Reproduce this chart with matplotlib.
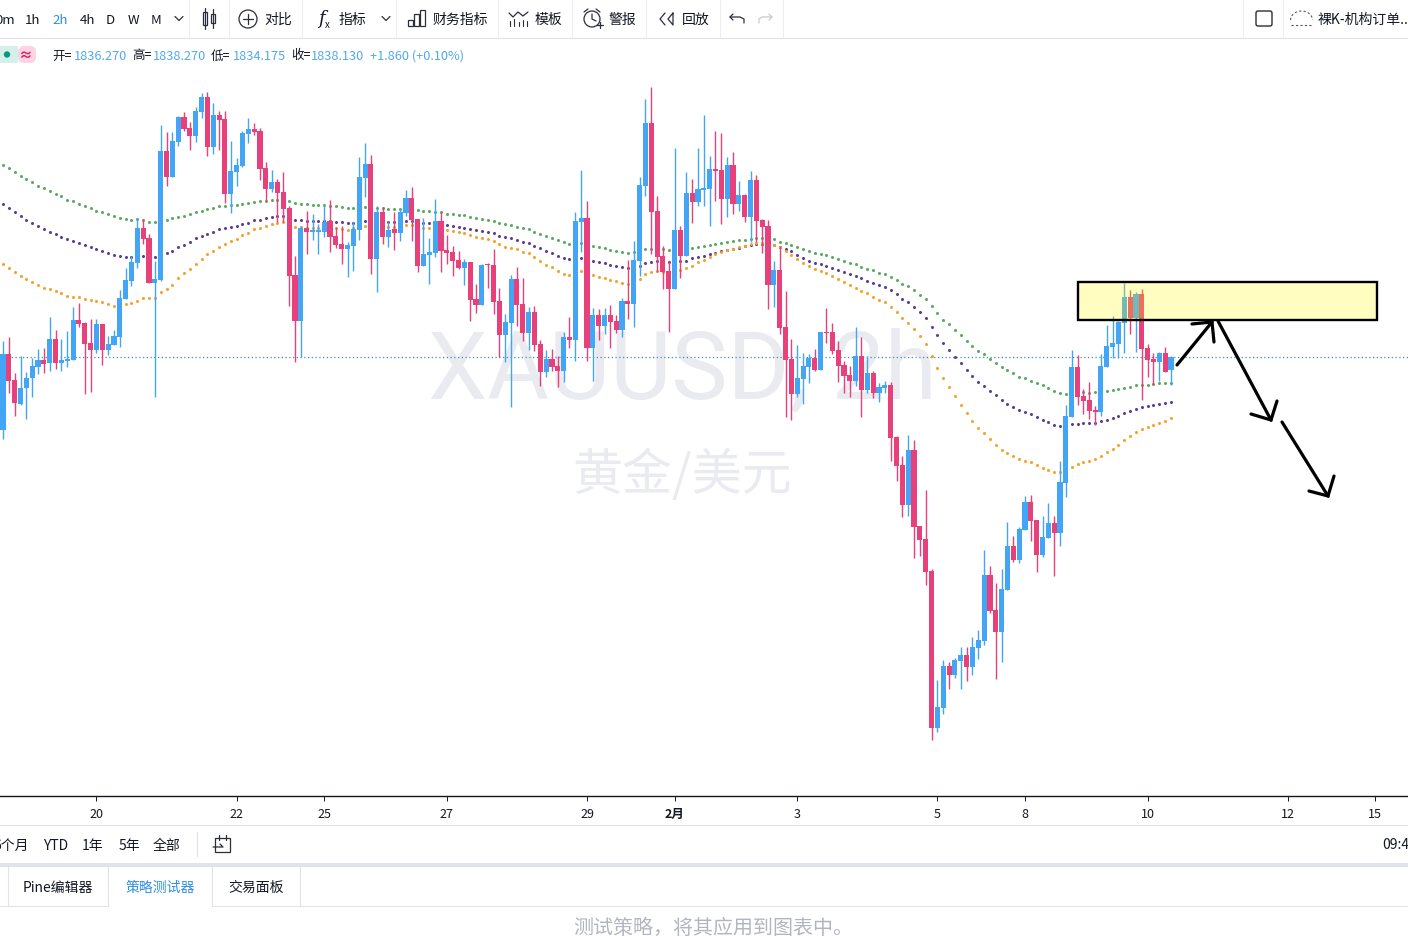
import matplotlib
matplotlib.use("Agg")
import matplotlib.pyplot as plt
from matplotlib.patches import Rectangle, FancyBboxPatch, Circle
import numpy as np

plt.rcParams['font.family'] = ['Noto Sans CJK SC', 'DejaVu Sans']

# 2h candles
opens = [
    1827.9,1838.5,1834.9,1831.5,1833.7,1835.1,1836.7,1837.7,1837.2,1840.6,
    1837.2,1837.5,1837.7,1843.3,1842.8,1840.0,1839.1,1842.7,1839.1,1839.8,
    1840.9,1846.2,1848.7,1851.2,1856.1,1854.7,1848.4,1848.9,1866.9,1863.3,
    1868.2,1871.7,1870.1,1869.0,1872.4,1874.5,1867.5,1872.0,1871.4,1860.9,
    1864.0,1864.8,1869.3,1870.0,1869.7,1864.5,1861.6,1862.6,1861.2,1858.9,
    1849.6,1843.1,1856.1,1855.6,1855.6,1855.6,1857.1,1855.0,1853.9,1853.2,
    1853.6,1855.9,1863.1,1865.1,1851.8,1858.4,1854.9,1856.0,1855.4,1858.2,
    1860.3,1857.4,1850.8,1852.4,1852.6,1857.1,1853.1,1852.8,1851.7,1850.5,
    1851.4,1846.2,1845.4,1851.0,1851.0,1845.9,1841.2,1842.8,1849.0,1845.5,
    1841.4,1844.4,1839.9,1836.0,1837.8,1836.8,1836.1,1840.9,1840.5,1857.0,
    1857.5,1839.3,1844.0,1842.4,1844.0,1843.1,1841.9,1845.9,1845.5,1851.5,
    1862.0,1870.8,1858.5,1852.2,1850.1,1847.6,1855.9,1852.2,1861.0,1859.8,
    1861.5,1861.6,1864.4,1864.3,1860.2,1865.0,1859.5,1860.8,1857.7,1862.9,
    1857.3,1856.4,1848.2,1850.3,1842.3,1837.8,1832.9,1835.0,1836.7,1837.9,
    1836.3,1841.6,1841.6,1839.1,1837.0,1835.6,1834.7,1838.2,1833.5,1835.8,
    1833.0,1833.7,1834.2,1826.9,1823.0,1817.4,1825.1,1814.4,1812.6,1808.1,
    1786.1,1788.9,1794.8,1793.6,1795.5,1796.4,1794.7,1797.3,1798.3,1807.6,
    1802.7,1799.6,1805.5,1811.6,1809.7,1813.9,1817.8,1815.3,1810.4,1812.7,
    1814.8,1813.4,1820.4,1829.7,1836.7,1832.6,1832.1,1830.7,1830.4,1836.7,
    1839.5,1839.9,1842.8,1846.5,1843.5,1846.9,1839.3,1837.8,1837.4,1838.6,
    1836.27]
highs = [
    1840.3,1840.9,1835.8,1838.2,1836.0,1837.9,1839.2,1839.3,1843.7,1841.9,
    1840.6,1841.7,1845.1,1845.6,1843.0,1843.4,1843.4,1842.7,1841.0,1841.9,
    1847.5,1850.5,1852.2,1857.5,1857.4,1855.3,1851.5,1870.6,1869.6,1869.6,
    1871.8,1872.4,1871.0,1873.1,1875.0,1875.2,1873.6,1872.5,1872.5,1868.3,
    1865.9,1869.7,1871.5,1870.8,1870.1,1865.4,1864.3,1863.0,1864.0,1859.2,
    1852.2,1856.4,1858.5,1858.1,1856.7,1859.2,1860.1,1856.3,1856.4,1854.2,
    1857.0,1866.1,1868.0,1866.4,1859.2,1859.1,1857.1,1858.4,1858.8,1861.5,
    1861.9,1857.4,1857.5,1854.7,1860.2,1858.4,1855.2,1853.6,1852.9,1851.8,
    1851.4,1848.3,1851.1,1851.2,1853.2,1847.7,1844.1,1849.6,1850.7,1849.1,
    1845.1,1845.2,1840.5,1839.1,1839.2,1838.2,1841.6,1843.7,1858.4,1864.3,
    1859.9,1844.9,1844.8,1844.9,1845.4,1844.0,1846.3,1851.7,1854.3,1863.3,
    1874.2,1875.9,1860.6,1853.6,1851.5,1867.3,1856.4,1864.0,1863.0,1867.3,
    1872.0,1866.2,1869.7,1869.4,1866.1,1866.8,1862.7,1860.9,1864.1,1863.6,
    1857.4,1857.3,1851.5,1853.6,1847.3,1840.6,1839.8,1838.6,1838.5,1839.2,
    1841.6,1844.9,1842.8,1840.3,1837.5,1836.8,1842.3,1840.9,1838.2,1836.1,
    1834.4,1834.7,1834.6,1827.0,1824.2,1827.2,1826.5,1814.4,1819.5,1808.4,
    1792.9,1795.7,1795.4,1795.9,1797.5,1797.5,1798.9,1799.9,1811.1,1808.8,
    1806.4,1808.4,1815.0,1813.0,1814.3,1818.6,1818.8,1815.3,1815.8,1817.6,
    1815.8,1823.5,1831.4,1839.1,1838.4,1833.6,1834.6,1831.2,1838.5,1842.6,
    1843.8,1843.1,1848.4,1847.5,1847.2,1847.6,1839.9,1838.6,1838.8,1839.5,
    1838.27]
lows = [
    1826.6,1833.0,1829.8,1831.4,1829.4,1832.5,1835.7,1835.8,1836.1,1836.4,
    1836.1,1836.7,1837.7,1842.3,1832.9,1833.2,1838.6,1837.0,1838.4,1839.8,
    1839.5,1846.2,1848.0,1850.5,1853.9,1848.4,1832.5,1848.7,1862.0,1863.3,
    1867.6,1869.7,1867.1,1868.2,1871.5,1866.2,1866.5,1867.1,1859.6,1858.2,
    1862.0,1864.7,1868.0,1869.2,1862.9,1859.9,1861.2,1857.0,1857.0,1845.2,
    1837.4,1838.1,1852.5,1854.5,1852.5,1854.9,1852.8,1853.3,1851.1,1849.3,
    1850.1,1854.5,1860.5,1849.7,1847.2,1853.9,1853.5,1853.1,1854.3,1857.8,
    1854.3,1850.0,1850.8,1848.3,1852.1,1850.0,1851.1,1849.4,1850.4,1848.2,
    1843.1,1844.2,1845.4,1847.7,1844.1,1838.1,1837.4,1831.1,1842.4,1840.3,
    1839.1,1838.9,1834.0,1835.3,1836.1,1833.9,1834.6,1839.3,1837.5,1852.8,
    1837.5,1834.7,1840.5,1841.3,1839.3,1841.4,1840.9,1843.4,1842.3,1849.4,
    1860.6,1852.5,1850.0,1847.6,1841.6,1847.6,1849.1,1852.2,1856.8,1859.2,
    1859.2,1856.4,1859.9,1856.7,1857.7,1858.1,1858.5,1857.0,1854.2,1854.2,
    1852.6,1844.8,1845.1,1841.3,1829.7,1829.3,1832.5,1831.5,1834.4,1836.1,
    1836.3,1840.0,1838.5,1834.6,1833.0,1832.5,1834.0,1829.7,1833.0,1832.3,
    1831.8,1833.0,1823.5,1820.7,1815.7,1815.8,1809.9,1810.2,1806.2,1784.5,
    1785.6,1788.1,1791.6,1793.1,1791.6,1792.7,1793.6,1795.8,1797.8,1802.2,
    1793.0,1795.4,1805.5,1809.4,1809.2,1813.9,1812.3,1808.0,1810.1,1812.7,
    1807.4,1811.6,1818.5,1829.7,1831.4,1830.1,1829.4,1828.6,1829.8,1836.7,
    1837.9,1837.9,1838.6,1841.3,1838.8,1832.1,1835.3,1834.2,1834.7,1836.0,
    1834.175]
closes = [
    1838.5,1834.7,1831.6,1833.7,1835.1,1836.8,1837.7,1837.1,1840.6,1837.2,
    1837.7,1837.8,1843.3,1842.7,1839.9,1839.1,1842.7,1839.1,1839.9,1841.0,
    1846.3,1848.9,1851.4,1856.1,1854.6,1848.4,1849.0,1866.9,1863.3,1868.3,
    1871.7,1870.0,1869.0,1872.5,1874.5,1867.5,1872.0,1871.3,1860.9,1864.1,
    1865.0,1869.4,1870.0,1869.6,1864.4,1861.6,1862.6,1861.0,1858.8,1849.4,
    1843.1,1856.1,1855.6,1855.7,1855.7,1857.0,1854.9,1853.8,1853.2,1853.8,
    1856.0,1863.3,1865.1,1851.8,1858.4,1854.9,1855.9,1855.4,1858.4,1860.3,
    1857.3,1850.8,1852.5,1852.8,1857.1,1852.9,1852.6,1851.5,1850.5,1851.4,
    1846.1,1845.4,1851.0,1850.9,1845.8,1841.2,1843.0,1849.0,1845.4,1841.4,
    1844.4,1839.8,1836.0,1837.8,1836.7,1836.1,1840.9,1840.5,1857.1,1857.5,
    1839.3,1844.0,1842.4,1844.0,1843.0,1841.9,1845.9,1845.5,1851.7,1862.2,
    1870.8,1858.4,1852.1,1850.0,1847.6,1855.9,1852.2,1861.0,1859.8,1861.6,
    1861.7,1864.4,1864.1,1860.2,1865.0,1859.5,1860.8,1857.7,1862.9,1857.1,
    1856.3,1848.2,1850.3,1842.1,1837.7,1832.9,1835.1,1836.8,1837.9,1836.3,
    1841.6,1841.4,1838.9,1836.8,1835.4,1834.7,1838.2,1833.5,1835.8,1833.0,
    1833.9,1834.2,1826.7,1822.8,1817.4,1825.1,1814.3,1812.5,1808.0,1786.1,
    1789.1,1794.8,1793.6,1795.7,1796.4,1794.7,1797.5,1798.5,1807.6,1802.5,
    1799.6,1805.6,1811.6,1809.7,1814.0,1817.8,1815.1,1810.4,1812.9,1814.8,
    1813.4,1820.6,1829.8,1836.7,1832.5,1831.9,1830.5,1830.4,1836.8,1839.6,
    1840.0,1843.0,1846.5,1843.5,1846.9,1839.2,1837.7,1837.4,1838.6,1836.0,
    1838.13]

# the three dotted moving averages, one value per candle
ma_green = [
    1865.0,1864.5,1864.0,1863.4,1863.0,1862.6,1862.0,1861.7,1861.3,1860.9,
    1860.6,1860.1,1859.9,1859.5,1859.2,1858.9,1858.5,1858.4,1858.1,1857.8,
    1857.5,1857.4,1857.3,1857.4,1857.3,1857.0,1857.0,1856.8,1857.3,1857.5,
    1857.7,1857.8,1858.1,1858.4,1858.5,1858.8,1858.9,1859.2,1859.2,1859.4,
    1859.4,1859.5,1859.6,1859.8,1859.9,1859.9,1860.1,1860.1,1860.1,1859.9,
    1859.6,1859.5,1859.5,1859.4,1859.4,1859.4,1859.2,1859.2,1859.1,1858.9,
    1858.9,1858.9,1859.1,1858.9,1858.9,1858.9,1858.8,1858.8,1858.8,1858.8,
    1858.8,1858.7,1858.5,1858.5,1858.4,1858.4,1858.1,1858.1,1858.0,1858.0,
    1857.7,1857.5,1857.4,1857.3,1857.1,1856.8,1856.7,1856.6,1856.3,1856.1,
    1856.0,1855.6,1855.3,1855.0,1854.7,1854.5,1854.2,1853.9,1853.8,1854.0,
    1853.8,1853.6,1853.5,1853.3,1853.1,1852.9,1852.8,1852.6,1852.8,1853.1,
    1853.2,1853.2,1853.2,1853.2,1853.1,1853.2,1853.2,1853.3,1853.3,1853.5,
    1853.6,1853.8,1853.9,1854.0,1854.2,1854.3,1854.5,1854.5,1854.6,1854.7,
    1854.7,1854.7,1854.6,1854.2,1854.0,1853.8,1853.5,1853.2,1852.9,1852.6,
    1852.5,1852.4,1852.1,1851.8,1851.5,1851.2,1851.1,1850.7,1850.4,1850.3,
    1849.8,1849.7,1849.3,1848.9,1848.3,1848.0,1847.5,1846.8,1846.2,1845.2,
    1844.2,1843.3,1842.7,1841.9,1841.2,1840.3,1839.6,1838.9,1838.5,1837.8,
    1837.2,1836.7,1836.3,1835.8,1835.3,1835.1,1834.7,1834.4,1834.2,1833.7,
    1833.3,1833.0,1832.9,1832.9,1833.0,1833.2,1833.0,1833.2,1833.2,1833.3,
    1833.5,1833.6,1833.7,1833.9,1834.2,1834.2,1834.2,1834.3,1834.4,1834.4,
    1834.4]
ma_purple = [
    1859.5,1858.9,1858.4,1857.8,1857.3,1856.8,1856.4,1856.0,1855.6,1855.3,
    1854.9,1854.6,1854.3,1854.0,1853.8,1853.5,1853.2,1852.9,1852.6,1852.4,
    1852.2,1852.1,1852.1,1852.2,1852.2,1852.1,1852.1,1852.2,1852.6,1852.9,
    1853.5,1853.8,1854.2,1854.7,1855.0,1855.3,1855.6,1856.0,1856.1,1856.3,
    1856.4,1856.7,1856.8,1857.3,1857.3,1857.5,1857.7,1857.8,1857.8,1857.4,
    1857.3,1857.3,1857.1,1857.1,1857.1,1857.1,1857.1,1857.0,1857.0,1856.8,
    1856.8,1857.0,1857.1,1857.1,1857.1,1857.0,1857.0,1857.0,1857.0,1857.1,
    1857.1,1856.8,1856.8,1856.8,1856.7,1856.7,1856.6,1856.4,1856.3,1856.1,
    1856.0,1855.9,1855.7,1855.6,1855.4,1855.0,1854.9,1854.7,1854.5,1854.2,
    1854.0,1853.6,1853.3,1852.9,1852.6,1852.2,1851.9,1851.8,1851.7,1851.9,
    1851.7,1851.5,1851.4,1851.2,1851.0,1850.8,1850.7,1850.5,1850.7,1850.8,
    1851.2,1851.4,1851.5,1851.2,1851.4,1851.5,1851.5,1851.5,1851.9,1852.1,
    1852.2,1852.5,1852.6,1852.9,1853.1,1853.2,1853.3,1853.6,1853.8,1853.9,
    1853.9,1853.9,1853.8,1853.5,1853.2,1852.9,1852.4,1851.9,1851.5,1851.2,
    1851.1,1850.8,1850.5,1850.3,1850.0,1849.7,1849.4,1849.1,1848.7,1848.4,
    1848.2,1847.9,1847.5,1846.9,1846.2,1845.8,1845.1,1844.4,1843.5,1842.3,
    1841.2,1840.0,1839.1,1838.1,1837.2,1836.3,1835.4,1834.6,1834.0,1833.3,
    1832.8,1832.1,1831.5,1831.1,1830.7,1830.4,1830.1,1829.7,1829.3,1829.0,
    1828.6,1828.4,1828.6,1828.7,1828.7,1828.8,1828.8,1828.8,1829.1,1829.3,
    1829.5,1829.8,1830.2,1830.5,1830.8,1831.1,1831.2,1831.4,1831.5,1831.6,
    1831.8]
ma_orange = [
    1851.1,1850.5,1850.0,1849.4,1849.0,1848.6,1848.2,1847.7,1847.6,1847.3,
    1847.0,1846.6,1846.5,1846.5,1846.2,1846.1,1845.9,1845.8,1845.5,1845.2,
    1845.2,1845.5,1845.6,1845.9,1846.3,1846.3,1846.3,1847.2,1847.6,1848.2,
    1849.1,1849.8,1850.4,1851.1,1851.8,1852.5,1852.9,1853.5,1853.9,1854.3,
    1854.6,1855.2,1855.4,1856.0,1856.1,1856.4,1856.7,1856.8,1857.0,1856.7,
    1856.3,1856.3,1856.1,1856.1,1856.1,1856.1,1856.1,1856.1,1856.0,1855.9,
    1856.1,1856.3,1856.4,1856.4,1856.4,1856.3,1856.3,1856.3,1856.3,1856.6,
    1856.6,1856.4,1856.1,1856.1,1856.0,1856.0,1855.9,1855.7,1855.6,1855.4,
    1855.2,1854.9,1854.7,1854.6,1854.3,1853.9,1853.5,1853.3,1853.2,1852.8,
    1852.6,1852.1,1851.5,1851.0,1850.7,1850.1,1849.7,1849.6,1849.4,1850.1,
    1849.8,1849.6,1849.3,1849.1,1848.9,1848.7,1848.4,1848.3,1848.4,1849.0,
    1849.7,1850.0,1850.1,1850.0,1850.0,1850.0,1850.3,1850.5,1850.8,1851.4,
    1851.7,1852.1,1852.5,1852.8,1853.1,1853.2,1853.5,1853.6,1853.9,1854.0,
    1854.0,1854.0,1853.8,1853.5,1852.9,1852.4,1851.8,1851.2,1850.8,1850.4,
    1850.1,1849.8,1849.4,1849.0,1848.6,1848.2,1847.7,1847.3,1847.0,1846.5,
    1846.1,1845.8,1845.1,1844.4,1843.5,1842.8,1842.0,1841.0,1839.9,1838.2,
    1836.5,1835.1,1833.9,1832.6,1831.4,1830.2,1829.1,1828.1,1827.4,1826.6,
    1825.8,1825.1,1824.6,1824.2,1823.8,1823.5,1823.4,1823.0,1822.5,1822.3,
    1822.0,1822.0,1822.1,1822.7,1823.1,1823.4,1823.5,1823.8,1824.2,1824.8,
    1825.2,1825.8,1826.5,1827.0,1827.6,1828.0,1828.3,1828.6,1828.9,1829.1,
    1829.5]

tick_bars = [16, 40, 55, 76, 100, 115, 136, 160, 175, 196, 220, 235]
tick_labels = ['20', '22', '25', '27', '29', '2月', '3', '5', '8', '10', '12', '15']

W, H = 1408, 937
UP = '#42a5f5'
DOWN = '#e8407a'
BORDER = '#e0e3eb'
TEXT = '#131722'

fig = plt.figure(figsize=(W / 100, H / 100), dpi=100, facecolor='white')

# background layer in pixel units, for the toolbar and watermark
ui = fig.add_axes([0, 0, 1, 1], zorder=0)
ui.set_xlim(0, W)
ui.set_ylim(H, 0)
ui.axis('off')

ax = fig.add_axes([0, (H - 797) / H, 1, (797 - 39) / H], zorder=1)
ax.patch.set_alpha(0)
ax.set_xlim(-3 / 5.84, (W - 3) / 5.84)
ax.set_ylim(1888.2 - 0.14 * 797, 1888.2 - 0.14 * 39)

# top layer for the hand drawn box and arrows
top = fig.add_axes([0, 0, 1, 1], zorder=2)
top.patch.set_alpha(0)
top.set_xlim(0, W)
top.set_ylim(H, 0)
top.axis('off')


def label(x, y, s, size=10, color=TEXT, ha='center', **kw):
    ui.text(x, y + 1, s, fontsize=size, color=color, ha=ha, va='center', **kw)


def stroke(xs, ys, color='#2a2e39', lw=0.9, **kw):
    ui.plot(xs, ys, color=color, lw=lw, solid_capstyle='round', **kw)


# watermark
label(682, 371, 'XAUUSD, 2h', size=68, color='#e9ebf0', family='Roboto')
label(682, 475, '黄金/美元', size=36, color='#e9ebf0')

# candles and averages
x = np.arange(len(closes))
o = np.array(opens)
c = np.array(closes)
colors = [UP if b >= a else DOWN for a, b in zip(o, c)]

for ma, col in [(ma_green, '#5cab62'), (ma_purple, '#5a3f98'), (ma_orange, '#f4a32a')]:
    ax.plot(x, ma, 'o', ms=2.2, mew=0, color=col, zorder=2)

ax.axhline(closes[-1], color='#3f8fb5', lw=0.9, ls=(0, (1, 2)), zorder=1)
ax.vlines(x, lows, highs, colors=colors, lw=1.0, zorder=3)
ax.bar(x, np.maximum(np.abs(c - o), 0.2), bottom=np.minimum(o, c), width=0.88,
       color=colors, lw=0, zorder=4)

ax.set_xticks(tick_bars)
ax.set_xticklabels(tick_labels, fontsize=9, color=TEXT)
ax.get_xticklabels()[5].set_fontweight('bold')
ax.tick_params(axis='x', length=3.5, width=0.7, pad=4.5, color='#131722')
ax.set_yticks([])
for side in ['top', 'left', 'right']:
    ax.spines[side].set_visible(False)
ax.spines['bottom'].set_color('#131722')
ax.spines['bottom'].set_linewidth(1.0)

# toolbar
ui.plot([0, W], [38.5, 38.5], color=BORDER, lw=0.8)
for sx in [189, 229, 302, 396, 498, 572, 646, 720, 783, 1243, 1283]:
    ui.plot([sx, sx], [0, 38], color='#eceef2', lw=0.8)

label(5, 19, '0m', size=9.5)
for tx, s, col in [(33, '1h', TEXT), (60, '2h', '#2e8fe0'), (87, '4h', TEXT), (110, 'D', TEXT),
                   (133, 'W', TEXT), (156, 'M', TEXT)]:
    label(tx, 19, s, size=9.5, color=col)
stroke([175, 179, 183], [17.5, 21.5, 17.5])

# candle icon
ui.add_patch(Rectangle((203, 13), 4, 13, fill=False, ec='#2a2e39', lw=0.9))
ui.add_patch(Rectangle((211, 15), 4, 9, fill=False, ec='#2a2e39', lw=0.9))
stroke([205, 205], [9, 30])
stroke([213, 213], [10, 29])

ui.add_patch(Circle((248, 20), 9, fill=False, ec='#2a2e39', lw=0.9))
stroke([243, 253], [20, 20])
stroke([248, 248], [15, 25])
label(278, 19, '对比')

label(321, 18, 'f', size=13, style='italic', family='DejaVu Serif')
label(327, 24, 'x', size=7)
label(352, 19, '指标')
stroke([382, 386, 390], [17.5, 21.5, 17.5])

for bx, bh in [(408, 6), (414, 12), (420, 16)]:
    ui.add_patch(Rectangle((bx, 27 - bh), 5, bh, fill=False, ec='#2a2e39', lw=0.9))
label(460, 19, '财务指标')

stroke([509, 513, 518, 523, 528], [14, 18, 13, 17, 13])
for tx, ty in [(510, 22), (514, 20), (519, 23), (523, 21), (527, 22)]:
    stroke([tx, tx], [ty, 27], lw=0.8)
label(548, 19, '模板')

ui.add_patch(Circle((592, 20), 8, fill=False, ec='#2a2e39', lw=0.9))
stroke([592, 592, 596], [15, 20, 22])
stroke([584, 588], [13, 10])
stroke([600, 596], [13, 10])
stroke([597, 603], [26, 26])
stroke([600, 600], [23, 29])
label(622, 19, '警报')

stroke([665, 660, 665], [14, 20, 26])
stroke([673, 668, 673, 673], [14, 20, 26, 14])
label(696, 19, '回放')

stroke([733, 730, 733], [15, 18, 21])
stroke([730, 740, 744, 744], [18, 18, 20, 24])
stroke([769, 772, 769], [15, 18, 21], color='#c8cad0')
stroke([772, 762, 759, 759], [18, 18, 20, 24], color='#c8cad0')

ui.add_patch(FancyBboxPatch((1256, 12), 16, 15, boxstyle='round,pad=0,rounding_size=2',
                            fill=False, ec='#2a2e39', lw=1.0))
cloud_t = np.linspace(np.pi, 0, 20)
ui.plot(1301.5 + 11 * np.cos(cloud_t), 21 + 9 * np.sin(cloud_t) * -1, color='#555', lw=0.8, ls=(0, (2, 2)))
ui.plot([1291, 1313], [26, 26], color='#555', lw=0.8, ls=(0, (2, 2)))
label(1318, 19, '裸K-机构订单..', ha='left')

# legend row
ui.add_patch(Rectangle((-4, 47), 22, 17, fc='#d5f0ea', ec='none'))
ui.add_patch(FancyBboxPatch((18, 47), 18, 17, boxstyle='round,pad=0,rounding_size=6',
                            fc='#fcd4e2', ec='none'))
ui.add_patch(Circle((7, 55.5), 3.2, fc='#089981', ec='none'))
label(25, 55, '≈', size=10, color='#d81b60', weight='bold')

VALUE = '#53a9e8'
for tx, s in [(52, '开='), (132, '高='), (211, '低='), (291, '收=')]:
    label(tx, 55, s, size=9, ha='left')
for tx, s in [(74, '1836.270'), (153, '1838.270'), (233, '1834.175'), (311, '1838.130'),
              (370, '+1.860 (+0.10%)')]:
    label(tx, 55, s, size=9.2, color=VALUE, ha='left')

# date range row
ui.plot([0, W], [825.5, 825.5], color=BORDER, lw=0.8)
label(29, 845, '6个月', ha='right')
label(56, 845, 'YTD')
label(93, 845, '1年')
label(129, 845, '5年')
label(167, 845, '全部')
ui.plot([197, 197], [833, 857], color=BORDER, lw=0.8)
ui.add_patch(Rectangle((215, 839), 15, 14, fill=False, ec='#2a2e39', lw=0.9))
stroke([219, 219], [836, 841])
stroke([226, 226], [836, 841])
stroke([213, 223, 220], [848, 848, 845])
label(1382, 844, '09:4', ha='left')

# tabs
ui.add_patch(Rectangle((0, 864), W, 4, fc=BORDER, ec='none'))
for sx in [8, 108, 212, 300]:
    ui.plot([sx, sx], [868, 906], color=BORDER, lw=0.8)
ui.plot([0, 108], [906.5, 906.5], color=BORDER, lw=0.8)
ui.plot([212, W], [906.5, 906.5], color=BORDER, lw=0.8)
label(58, 887, 'Pine编辑器')
label(160, 887, '策略测试器', color='#2e8fe0')
label(256, 887, '交易面板')
label(713, 928, '测试策略，将其应用到图表中。', size=14.4, color='#b2b5be')

# box and arrows drawn on the chart
top.add_patch(Rectangle((1078, 283), 299, 38, fc=(1.0, 0.98, 0.0, 0.25), ec='black', lw=1.7))
arrows = [
    ((1177, 366), (1212, 323), (1192, 325), (1214, 343)),
    ((1218, 322), (1271, 421), (1251, 415), (1277, 402)),
    ((1282, 423), (1328, 497), (1309, 492), (1334, 477)),
]
for start, tip, wing_a, wing_b in arrows:
    top.plot([start[0], tip[0]], [start[1], tip[1]], color='black', lw=2.3, solid_capstyle='round')
    top.plot([wing_a[0], tip[0], wing_b[0]], [wing_a[1], tip[1], wing_b[1]], color='black', lw=2.3,
             solid_capstyle='round', solid_joinstyle='miter')

fig.savefig('out.png', dpi=100)
